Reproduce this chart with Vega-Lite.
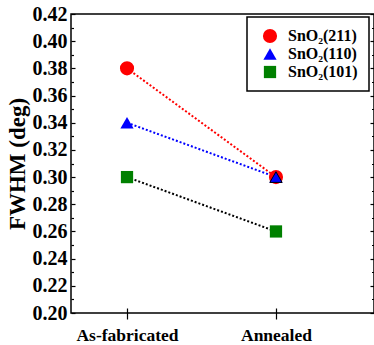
{
  "$schema": "https://vega.github.io/schema/vega-lite/v6.json",
  "width": 303,
  "height": 299,
  "autosize": {"type": "none"},
  "padding": {"left": 71, "top": 14, "right": 0, "bottom": 32},
  "config": {
    "view": {"stroke": "black", "strokeWidth": 1.5},
    "font": "Liberation Serif",
    "style": {"guide-label": {"font": "Liberation Serif", "fontWeight": "bold", "fill": "black"}, "guide-title": {"font": "Liberation Serif", "fontWeight": "bold", "fill": "black"}},
    "axis": {"grid": false, "domain": false, "tickColor": "black", "tickWidth": 1.2, "labelColor": "black", "titleColor": "black", "labelFont": "Liberation Serif", "titleFont": "Liberation Serif", "labelFontWeight": "bold"},
    "legend": {
      "orient": "none", "legendX": 176, "legendY": 3,
      "strokeColor": "black", "strokeWidth": 1.5, "padding": 11, "fillColor": "white",
      "labelFont": "Liberation Serif", "labelFontSize": 16, "labelFontWeight": "bold", "labelColor": "black",
      "labelOffset": 10, "symbolOffset": 4, "rowPadding": 2
    }
  },
  "data": {
    "values": [
      {"condition": "As-fabricated", "x": 1, "series": "SnO₂(211)", "fwhm": 0.38},
      {"condition": "Annealed", "x": 2, "series": "SnO₂(211)", "fwhm": 0.30},
      {"condition": "As-fabricated", "x": 1, "series": "SnO₂(110)", "fwhm": 0.34},
      {"condition": "Annealed", "x": 2, "series": "SnO₂(110)", "fwhm": 0.30},
      {"condition": "As-fabricated", "x": 1, "series": "SnO₂(101)", "fwhm": 0.30},
      {"condition": "Annealed", "x": 2, "series": "SnO₂(101)", "fwhm": 0.26}
    ]
  },
  "encoding": {
    "x": {
      "field": "x", "type": "quantitative",
      "scale": {"domain": [0.624, 2.658], "nice": false, "zero": false},
      "axis": {
        "values": [1, 2],
        "labelExpr": "datum.value == 1 ? 'As-fabricated' : 'Annealed'",
        "labelFontSize": 17.5, "labelFontWeight": "bold", "labelFont": "Liberation Serif",
        "tickSize": 11, "offset": -5, "labelPadding": 7, "title": null
      }
    }
  },
  "layer": [
    {
      "transform": [{"filter": "datum.series == 'SnO₂(211)'"}],
      "mark": {"type": "line", "strokeDash": [2, 2], "strokeWidth": 2, "color": "#ff0000"},
      "encoding": {
        "y": {
          "field": "fwhm", "type": "quantitative",
          "scale": {"domain": [0.2, 0.42], "nice": false, "zero": false},
          "axis": {
            "orient": "right", "labels": false, "title": null,
            "values": [0.2,0.21,0.22,0.23,0.24,0.25,0.26,0.27,0.28,0.29,0.3,0.31,0.32,0.33,0.34,0.35,0.36,0.37,0.38,0.39,0.4,0.41,0.42],
            "tickSize": {"condition": {"test": "round(datum.value*100) % 2 == 1", "value": -2.5}, "value": -4}
          }
        },
        "order": {"field": "x"}
      }
    },
    {
      "transform": [{"filter": "datum.series == 'SnO₂(110)'"}],
      "mark": {"type": "line", "strokeDash": [2, 2], "strokeWidth": 2, "color": "#0000ff"},
      "encoding": {
        "y": {"field": "fwhm", "type": "quantitative", "scale": {"domain": [0.2, 0.42], "nice": false, "zero": false}, "axis": null},
        "order": {"field": "x"}
      }
    },
    {
      "transform": [{"filter": "datum.series == 'SnO₂(101)'"}],
      "mark": {"type": "line", "strokeDash": [2, 2], "strokeWidth": 2, "color": "#000000"},
      "encoding": {
        "y": {"field": "fwhm", "type": "quantitative", "scale": {"domain": [0.2, 0.42], "nice": false, "zero": false}, "axis": null},
        "order": {"field": "x"}
      }
    },
    {
      "mark": {"type": "point", "filled": true, "opacity": 1},
      "encoding": {
        "y": {
          "field": "fwhm", "type": "quantitative",
          "scale": {"domain": [0.2, 0.42], "nice": false, "zero": false},
          "axis": {
            "orient": "left",
            "title": "FWHM (deg)", "titleFontSize": 23, "titleFontWeight": "bold", "titleFont": "Liberation Serif", "titlePadding": 3,
            "values": [0.2,0.21,0.22,0.23,0.24,0.25,0.26,0.27,0.28,0.29,0.3,0.31,0.32,0.33,0.34,0.35,0.36,0.37,0.38,0.39,0.4,0.41,0.42],
            "labelExpr": "round(datum.value*100) % 2 == 0 ? format(datum.value, '.2f') : ''",
            "labelFontSize": 20, "labelFontWeight": "bold", "labelFont": "Liberation Serif",
            "tickSize": {"condition": {"test": "round(datum.value*100) % 2 == 1", "value": -2.5}, "value": -4},
            "labelPadding": 8
          }
        },
        "color": {
          "field": "series", "type": "nominal",
          "scale": {"domain": ["SnO₂(211)", "SnO₂(110)", "SnO₂(101)"], "range": ["#ff0000", "#0000ff", "#008000"]},
          "legend": {"title": null}
        },
        "shape": {
          "field": "series", "type": "nominal",
          "scale": {"domain": ["SnO₂(211)", "SnO₂(110)", "SnO₂(101)"], "range": ["circle", "triangle-up", "square"]},
          "legend": {"title": null}
        },
        "size": {
          "field": "series", "type": "nominal",
          "scale": {"domain": ["SnO₂(211)", "SnO₂(110)", "SnO₂(101)"], "range": [200, 150, 130]},
          "legend": {"title": null}
        }
      }
    },
    {
      "transform": [{"filter": "datum.series == 'SnO₂(110)' && datum.x == 2"}],
      "mark": {"type": "point", "filled": true, "opacity": 1, "shape": "triangle-up", "fill": "#0000ff", "stroke": "black", "strokeWidth": 1, "size": 150},
      "encoding": {
        "y": {"field": "fwhm", "type": "quantitative", "scale": {"domain": [0.2, 0.42], "nice": false, "zero": false}, "axis": null}
      }
    }
  ],
  "resolve": {"axis": {"y": "independent"}}
}
